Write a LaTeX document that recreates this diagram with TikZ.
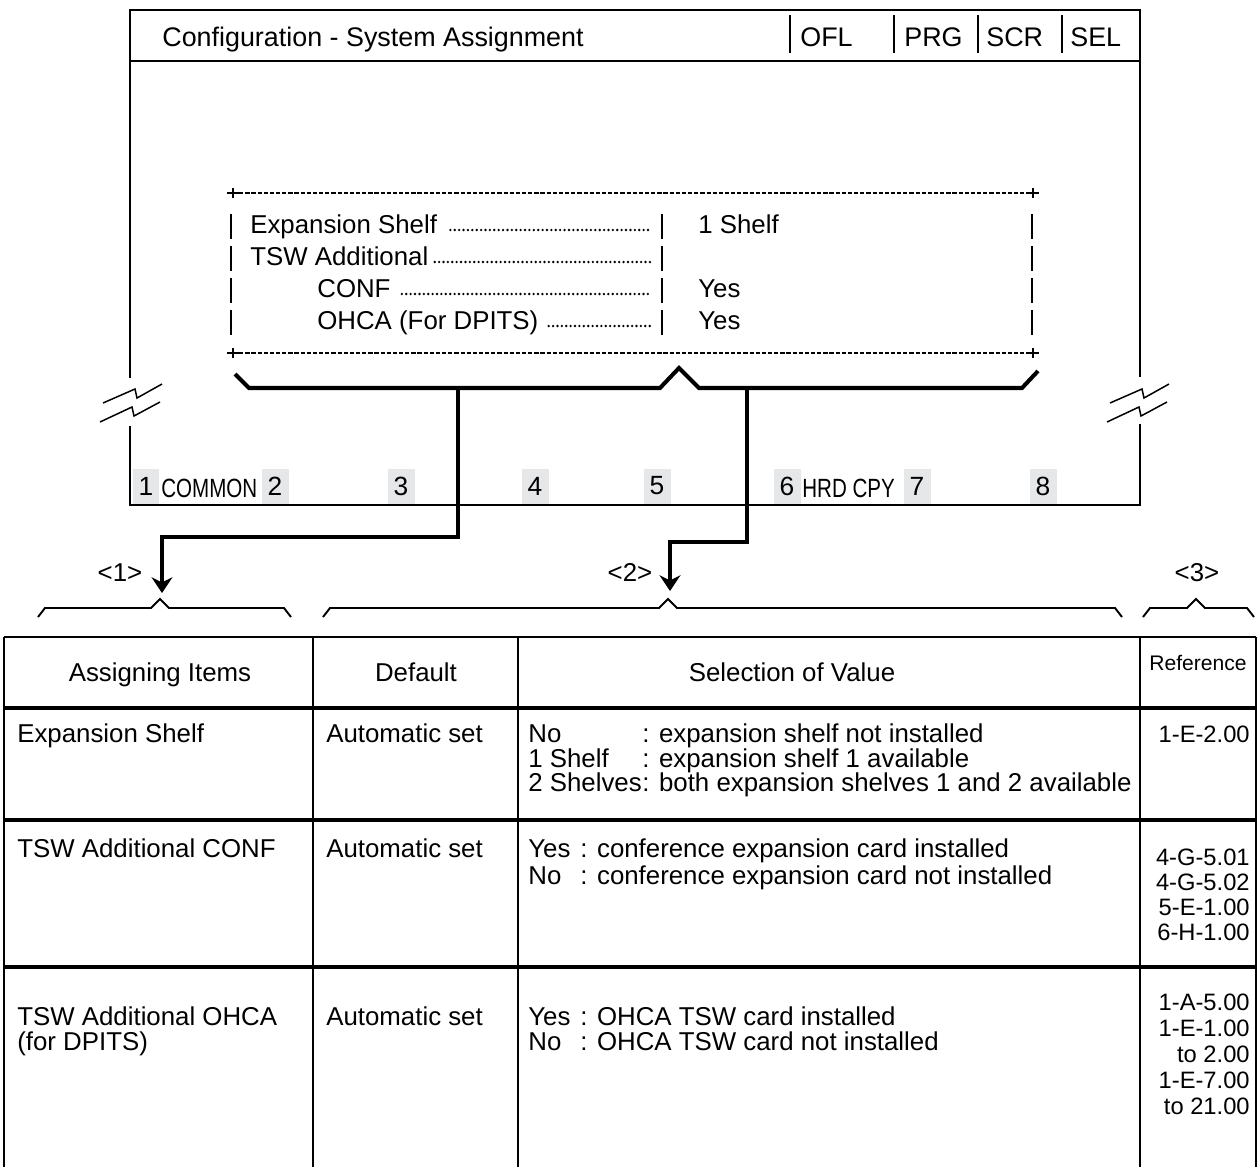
\documentclass[tikz,border=0pt]{standalone}
\usepackage{fontspec}
\setmainfont{Liberation Sans}
\newfontfamily\narrowsans[FakeStretch=0.78]{Liberation Sans}
\usepackage{tikz}
\usetikzlibrary{arrows.meta,positioning}
\definecolor{keygray}{RGB}{230,231,232}

\begin{document}
\begin{tikzpicture}[x=0.02cm,y=-0.02cm]
  \tikzset{
    scr/.style={line width=1.1pt},
    hdr/.style={font=\fontsize{15.3}{18}\selectfont,anchor=base west,inner sep=0pt},
    txt/.style={font=\fontsize{14.7}{18}\selectfont,anchor=base west,inner sep=0pt},
    ctxt/.style={txt,anchor=base},
    reftxt/.style={font=\fontsize{13.5}{16}\selectfont,anchor=base east,inner sep=0pt},
    dashrule/.style={line width=0.9pt,dash pattern=on 2.4pt off 1.1pt},
    rowbar/.style={line width=0.85pt},
    leader/.style={line width=1.5pt,dash pattern=on 0pt off 2.5pt,line cap=round},
    topbrace/.style={line width=2.3pt},
    feed/.style={line width=2.3pt,-{Stealth[length=9pt,width=12pt,inset=3pt]}},
    colbrace/.style={line width=1.1pt},
    breakmark/.style={line width=0.85pt},
    keybox/.style={fill=keygray,minimum width=0.54cm,minimum height=0.7cm,inner sep=0pt,font=\fontsize{15}{18}\selectfont},
    keylbl/.style={font=\narrowsans\fontsize{15}{17}\selectfont,anchor=base west,inner sep=0pt},
    tabline/.style={line width=1.4pt},
    rowline/.style={line width=2pt}
  }
  \useasboundingbox (0,0) rectangle (1258,1167);

  % screen outline, both sides broken off
  \draw[scr] (130,378) -- (130,10) -- (1140,10) -- (1140,377);
  \draw[scr] (130,426) -- (130,505) -- (1140,505) -- (1140,424);
  \draw[scr] (130,61) -- (1140,61);
  \foreach \bx in {130,1137}{
    \draw[breakmark] (\bx-27,403) -- (\bx+5,389) -- (\bx+7,398) -- (\bx+32,384);
    \draw[breakmark] (\bx-30,422) -- (\bx+2,407) -- (\bx+4,416) -- (\bx+30,402);
  }

  % title line
  \node[hdr] (title) at (162,46) {Configuration - System Assignment};
  \foreach \bx/\tx/\m in {790/800/OFL,894/904/PRG,978/986/SCR,1062/1070/SEL}{
    \draw[scr] (\bx,15) -- (\bx,53);
    \node[hdr] (mode-\m) at (\tx,46) {\m};
  }

  % assignment panel
  \draw[dashrule] (233,193) -- (1033,193);
  \draw[dashrule] (233,353) -- (1033,353);
  \foreach \cx in {233,1033}
    \foreach \cy in {193,353}
      \draw[rowbar] (\cx-6,\cy) -- (\cx+6,\cy) (\cx,\cy-5) -- (\cx,\cy+5);
  \foreach \ry in {233,265,297,329}
    \foreach \bx in {231,662,1032}
      \draw[rowbar] (\bx,\ry-19) -- (\bx,\ry+6);

  \node[txt] (shelf) at (250,233) {Expansion Shelf};
  \node[txt] (tsw) at (250,265) {TSW Additional};
  \node[txt] (conf) at (317,297) {CONF};
  \node[txt] (ohca) at (317,329) {OHCA (For DPITS)};
  \foreach \n/\ry/\gap in {shelf/233/13,tsw/265/6,conf/297/11,ohca/329/10}
    \draw[leader] ([xshift=\gap*0.02cm,yshift=0.06cm]\n.base east) -- (650,\ry-3);

  \node[txt] (shelf-val) at (698,233) {1 Shelf};
  \node[txt] (conf-val) at (698,297) {Yes};
  \node[txt] (ohca-val) at (698,329) {Yes};

  \draw[topbrace] (235,374) -- (249,388) -- (660,388) -- (679,368) -- (699,388) -- (1022,388) -- (1038,371);
  \coordinate (tap1) at (458,388);
  \coordinate (tap2) at (747,388);

  % soft keys
  \foreach \k/\kx in {1/146,2/275,3/401,4/535,5/657,6/787,7/917,8/1043}
    \node[keybox] (key\k) at (\kx,486) {\k};
  \node[keylbl] (common) at (161,497) {COMMON};
  \node[keylbl] (hardcopy) at (802,497) {HRD CPY};

  % pointers down to the table
  \coordinate (tip1) at (162,593);
  \coordinate (tip2) at (670,591);
  \draw[feed] (tap1) -- (458,537) -| (tip1);
  \draw[feed] (tap2) -- (747,542) -| (tip2);

  \node[ctxt] (part1) at (120,581) {<1>};
  \node[ctxt] (part2) at (630,581) {<2>};
  \node[ctxt] (part3) at (1197,581) {<3>};
  \foreach \bl/\bm/\br in {38/160/291,323/668/1122,1143/1196/1254}
    \draw[colbrace] (\bl,617) -- (\bl+7,608) -- (\bm-9,608) -- (\bm,599) -- (\bm+9,608) -- (\br-7,608) -- (\br,617);

  % table
  \draw[tabline] (4,637) -- (1256,637);
  \foreach \cx in {4,313,518,1140,1256}
    \draw[tabline] (\cx,637) -- (\cx,1167);
  \foreach \ry in {708,820,967}
    \draw[rowline] (4,\ry) -- (1256,\ry);

  \node[ctxt] (head-item) at (160,681) {Assigning Items};
  \node[ctxt] (head-def) at (416,681) {Default};
  \node[ctxt] (head-sel) at (792,681) {Selection of Value};
  \node[ctxt,font=\fontsize{12}{14}\selectfont] (head-ref) at (1198,670) {Reference};

  % row: expansion shelf
  \node[txt] (item1) at (17,742) {Expansion Shelf};
  \node[txt] (def1) at (326,742) {Automatic set};
  \node[reftxt] (ref1) at (1250,742) {1-E-2.00};
  \foreach \ry/\k/\v [count=\i] in {742/No/expansion shelf not installed,767/1 Shelf/expansion shelf 1 available,791/2 Shelves/both expansion shelves 1 and 2 available}{
    \node[txt] (opt1-\i) at (528,\ry) {\k};
    \node[txt] (desc1-\i) at (642,\ry) {: \v};
  }

  % row: conference card
  \node[txt] (item2) at (17,857) {TSW Additional CONF};
  \node[txt] (def2) at (326,857) {Automatic set};
  \foreach \ry/\k/\v [count=\i] in {857/Yes/conference expansion card installed,884/No/conference expansion card not installed}{
    \node[txt] (opt2-\i) at (528,\ry) {\k};
    \node[txt] (desc2-\i) at (580,\ry) {: \v};
  }
  \foreach \r [count=\i] in {4-G-5.01,4-G-5.02,5-E-1.00,6-H-1.00}
    \node[reftxt] (ref2-\i) at (1250,840+25*\i) {\r};

  % row: OHCA card
  \node[txt] (item3) at (17,1025) {TSW Additional OHCA};
  \node[txt] (item3b) at (17,1050) {(for DPITS)};
  \node[txt] (def3) at (326,1025) {Automatic set};
  \foreach \ry/\k/\v [count=\i] in {1025/Yes/OHCA TSW card installed,1050/No/OHCA TSW card not installed}{
    \node[txt] (opt3-\i) at (528,\ry) {\k};
    \node[txt] (desc3-\i) at (580,\ry) {: \v};
  }
  \foreach \r [count=\i] in {1-A-5.00,1-E-1.00,to 2.00,1-E-7.00,to 21.00}
    \node[reftxt] (ref3-\i) at (1250,984+26*\i) {\r};
\end{tikzpicture}
\end{document}
